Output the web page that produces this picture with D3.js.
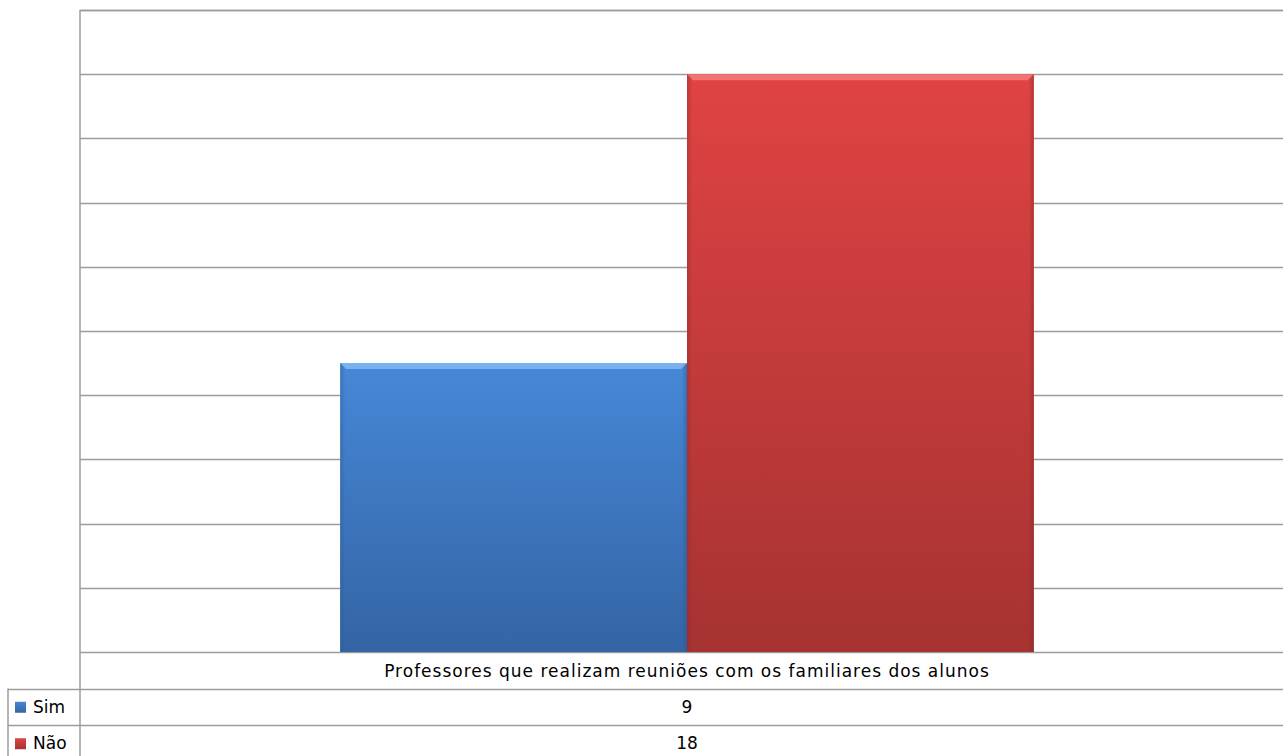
<!DOCTYPE html>
<html>
<head>
<meta charset="utf-8">
<script src="https://cdn.jsdelivr.net/npm/d3@7"></script>
<style>
  body { margin: 0; background: #fff; }
  svg { display: block; font-family: "DejaVu Sans", Tahoma, sans-serif; }
</style>
</head>
<body>
<svg width="1283" height="756"></svg>
<script>
var categories = ["Professores que realizam reuniões com os familiares dos alunos"];
var seriesNames = ["Sim", "Não"];
var simValues = [9];
var naoValues = [18];
var yTicks = [0, 2, 4, 6, 8, 10, 12, 14, 16, 18, 20];

var series = [
  { name: seriesNames[0], values: simValues, top: "#4688d8", bottom: "#3464a4", light: "#86bdf5", dark: "#2c5690" },
  { name: seriesNames[1], values: naoValues, top: "#e04343", bottom: "#a63232", light: "#f58080", dark: "#8a2828" }
];

var svg = d3.select("svg");
var plotLeft = 80, plotRight = 1294, plotTop = 10, plotBottom = 652;
var rowH = 36.5;
var fontSize = 17;

var y = d3.scaleLinear().domain([0, 20]).range([plotBottom, plotTop]);
var x0 = d3.scaleBand().domain(categories).range([plotLeft, plotRight]).paddingInner(0).paddingOuter(0.375);
var x1 = d3.scaleBand().domain(seriesNames).range([0, x0.bandwidth()]);

var defs = svg.append("defs");
series.forEach(function(s, i) {
  var g = defs.append("linearGradient").attr("id", "grad" + i)
    .attr("x1", "0%").attr("y1", "0%").attr("x2", "0%").attr("y2", "100%");
  g.append("stop").attr("offset", "0%").attr("stop-color", s.top);
  g.append("stop").attr("offset", "100%").attr("stop-color", s.bottom);
  var h = defs.append("linearGradient").attr("id", "side" + i)
    .attr("x1", "0%").attr("y1", "0%").attr("x2", "100%").attr("y2", "0%");
  h.append("stop").attr("offset", "0%").attr("stop-color", s.dark).attr("stop-opacity", 0.4);
  h.append("stop").attr("offset", "1.5%").attr("stop-color", s.dark).attr("stop-opacity", 0);
  h.append("stop").attr("offset", "98.5%").attr("stop-color", s.dark).attr("stop-opacity", 0);
  h.append("stop").attr("offset", "100%").attr("stop-color", s.dark).attr("stop-opacity", 0.5);
});

// gridlines
svg.append("g").selectAll("line")
  .data(yTicks)
  .enter().append("line")
  .attr("x1", plotLeft).attr("x2", 1283)
  .attr("y1", function(d) { return Math.round(y(d)) + 0.5; })
  .attr("y2", function(d) { return Math.round(y(d)) + 0.5; })
  .attr("stroke", "#9c9c9c")
  .attr("stroke-width", 1.5);

// bars
var bars = svg.append("g");
series.forEach(function(s, i) {
  var g = bars.selectAll(".bar" + i)
    .data(categories)
    .enter().append("g").attr("class", "bar" + i);
  var bx = function(d) { return x0(d) + x1(s.name); };
  var by = function(d, j) { return y(s.values[j]); };
  var bh = function(d, j) { return plotBottom - y(s.values[j]); };
  g.append("rect")
    .attr("x", bx).attr("y", by)
    .attr("width", x1.bandwidth()).attr("height", bh)
    .attr("fill", "url(#grad" + i + ")");
  g.append("rect")
    .attr("x", bx).attr("y", by)
    .attr("width", x1.bandwidth()).attr("height", bh)
    .attr("fill", "url(#side" + i + ")");
  // bevel highlight along the top
  g.append("path")
    .attr("d", function(d, j) {
      var X = bx(d), Y = by(d, j), W = x1.bandwidth(), b = 6;
      return "M" + X + "," + Y + "L" + (X + W) + "," + Y + "L" + (X + W - b) + "," + (Y + b) +
        "L" + (X + b) + "," + (Y + b) + "Z";
    })
    .attr("fill", s.light).attr("opacity", 0.8);
});

// plot border + table lines
var lines = svg.append("g").attr("stroke", "#9c9c9c").attr("stroke-width", 1.5).attr("fill", "none");
lines.append("line").attr("x1", plotLeft).attr("x2", plotLeft).attr("y1", plotTop).attr("y2", 756);
lines.append("line").attr("x1", plotLeft).attr("x2", 1283).attr("y1", plotTop + 0.5).attr("y2", plotTop + 0.5);
var rowTops = [plotBottom + rowH, plotBottom + 2 * rowH];
lines.selectAll(".row").data(rowTops).enter().append("line")
  .attr("x1", 8).attr("x2", 1283)
  .attr("y1", function(d) { return Math.round(d) + 0.5; })
  .attr("y2", function(d) { return Math.round(d) + 0.5; });
lines.append("line").attr("x1", 8).attr("x2", 8).attr("y1", rowTops[0]).attr("y2", 756);

// category label
svg.append("text")
  .attr("x", x0(categories[0]) + x0.bandwidth() / 2)
  .attr("y", plotBottom + rowH / 2 + 7)
  .attr("text-anchor", "middle")
  .attr("font-size", fontSize)
  .attr("letter-spacing", 1)
  .attr("fill", "#000")
  .text(categories[0]);

// legend / data rows
series.forEach(function(s, i) {
  var ry = rowTops[i];
  svg.append("rect")
    .attr("x", 15).attr("y", ry + rowH / 2 - 5)
    .attr("width", 11).attr("height", 11)
    .attr("fill", "url(#grad" + i + ")");
  svg.append("text")
    .attr("x", 33).attr("y", ry + rowH / 2 + 6)
    .attr("font-size", fontSize).attr("fill", "#000")
    .text(s.name);
  svg.append("text")
    .attr("x", x0(categories[0]) + x0.bandwidth() / 2)
    .attr("y", ry + rowH / 2 + 6)
    .attr("text-anchor", "middle")
    .attr("font-size", fontSize).attr("fill", "#000")
    .text(s.values[0]);
});
</script>
</body>
</html>
